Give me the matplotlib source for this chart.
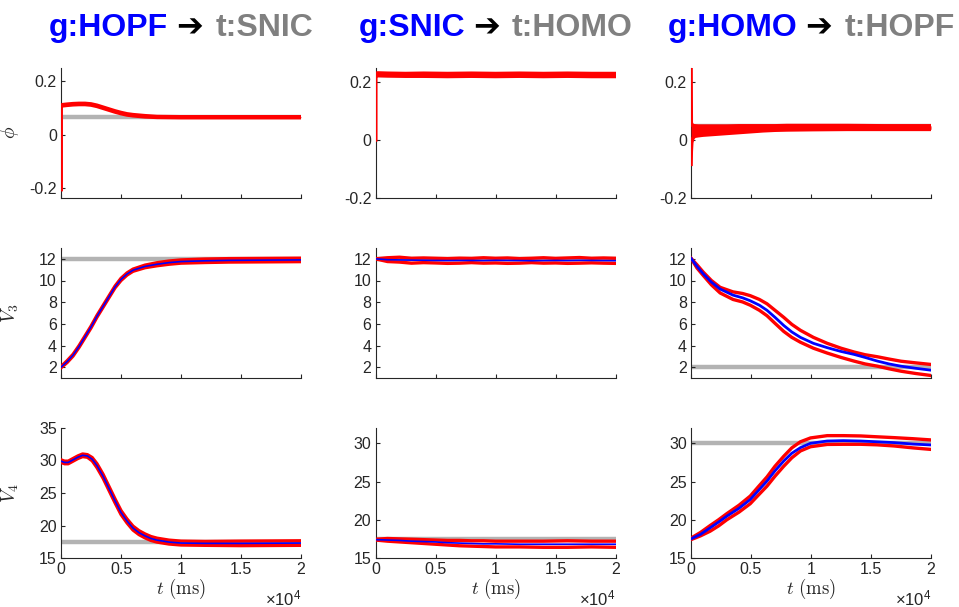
import matplotlib
matplotlib.use("Agg")
import matplotlib.pyplot as plt
import numpy as np

# ---------------- data ----------------
titles = [("g:HOPF", "t:SNIC"), ("g:SNIC", "t:HOMO"), ("g:HOMO", "t:HOPF")]
ylabels = [r"$\phi$", r"$V_3$", r"$V_4$"]

x_ticks = [0, 5000, 10000, 15000, 20000]
x_ticklabels = ["0", "0.5", "1", "1.5", "2"]

# target (gray) values, row x col
targets = [[0.065, 0.225, 0.046],
           [12.0, 12.0, 2.0],
           [17.4, 17.5, 30.0]]

ylims = [[(-0.235, 0.25), (-0.2, 0.25), (-0.2, 0.25)],
         [(1, 13), (1, 13), (1, 13)],
         [(15, 35), (15, 32), (15, 32)]]
yticks = [[[-0.2, 0, 0.2]] * 3,
          [[2, 4, 6, 8, 10, 12]] * 3,
          [[15, 20, 25, 30, 35], [15, 20, 25, 30], [15, 20, 25, 30]]]

# row 1: phi
t_phi_hopf = [0, 1, 100, 500, 1000, 1500, 2000, 2500, 3000, 3500, 4000, 4500,
              5000, 5500, 6000, 7000, 8000, 10000, 14000, 20000]
phi_hopf_mean = [-0.205, 0.106, 0.109, 0.111, 0.113, 0.114, 0.114, 0.112, 0.107, 0.100,
                 0.093, 0.086, 0.080, 0.075, 0.072, 0.068, 0.066, 0.065, 0.065, 0.065]
phi_hopf_hi = [-0.205, 0.108, 0.111, 0.113, 0.115, 0.116, 0.116, 0.114, 0.109, 0.102,
               0.095, 0.088, 0.082, 0.077, 0.074, 0.070, 0.067, 0.066, 0.066, 0.066]
phi_hopf_lo = [-0.205, 0.104, 0.107, 0.109, 0.111, 0.112, 0.112, 0.110, 0.105, 0.098,
               0.091, 0.084, 0.078, 0.073, 0.070, 0.066, 0.064, 0.063, 0.063, 0.063]

t_phi_snic = [0, 1, 200, 1000, 2500, 4000, 6000, 8000, 10000, 12000, 14000, 16000, 18000, 20000]
phi_snic_mean = [0.0, 0.226, 0.227, 0.226, 0.225, 0.225, 0.224, 0.225, 0.224, 0.225,
                 0.224, 0.225, 0.224, 0.224]
phi_snic_hi = [0.0, 0.230, 0.231, 0.230, 0.229, 0.230, 0.229, 0.230, 0.229, 0.230,
               0.229, 0.230, 0.229, 0.229]
phi_snic_lo = [0.0, 0.221, 0.222, 0.221, 0.220, 0.220, 0.219, 0.220, 0.219, 0.220,
               0.219, 0.220, 0.219, 0.219]

t_phi_homo = [0, 20, 60, 150, 300, 600, 1000, 2000, 3000, 4000, 5000, 6000, 7000,
              8000, 10000, 13000, 16000, 20000]
phi_homo_mean = [0.0, 0.010, 0.020, 0.028, 0.031, 0.032, 0.033, 0.034, 0.035, 0.037,
                 0.038, 0.039, 0.040, 0.041, 0.041, 0.042, 0.042, 0.042]
phi_homo_hi = [0.25, 0.060, 0.052, 0.049, 0.048, 0.047, 0.047, 0.047, 0.047, 0.048,
               0.048, 0.048, 0.048, 0.049, 0.049, 0.049, 0.048, 0.048]
phi_homo_lo = [-0.085, -0.040, -0.010, 0.005, 0.012, 0.014, 0.016, 0.019, 0.022, 0.025,
               0.028, 0.031, 0.033, 0.034, 0.035, 0.036, 0.036, 0.036]

# row 2: V3
t_v3_hopf = [0, 500, 1000, 1500, 2000, 2500, 3000, 3500, 4000, 4500, 5000, 5500, 6000,
             7000, 8000, 9000, 10000, 12000, 14000, 17000, 20000]
v3_hopf_mean = [2.0, 2.5, 3.1, 3.9, 4.8, 5.7, 6.7, 7.6, 8.5, 9.4, 10.1, 10.6, 10.95,
                11.3, 11.5, 11.65, 11.75, 11.82, 11.86, 11.88, 11.9]
v3_hopf_hi = [2.05, 2.58, 3.18, 3.98, 4.88, 5.78, 6.78, 7.68, 8.58, 9.48, 10.2, 10.7, 11.05,
              11.42, 11.64, 11.8, 11.9, 11.98, 12.02, 12.04, 12.06]
v3_hopf_lo = [1.95, 2.42, 3.02, 3.82, 4.72, 5.62, 6.62, 7.52, 8.42, 9.32, 10.0, 10.5, 10.85,
              11.18, 11.36, 11.5, 11.6, 11.66, 11.7, 11.72, 11.74]

t_v3_snic = [0, 1000, 2000, 3000, 4000, 5000, 6000, 7000, 8000, 9000, 10000, 11000,
             12000, 13000, 14000, 15000, 16000, 17000, 18000, 19000, 20000]
v3_snic_mean = [12.0, 11.92, 11.9, 11.88, 11.87, 11.85, 11.84, 11.85, 11.85, 11.84, 11.86,
                11.85, 11.84, 11.83, 11.84, 11.85, 11.84, 11.86, 11.85, 11.84, 11.83]
v3_snic_hi = [12.0, 12.1, 12.15, 12.05, 12.08, 12.05, 12.02, 12.06, 12.04, 12.1, 12.05,
              12.08, 12.02, 12.05, 12.1, 12.04, 12.08, 12.12, 12.05, 12.08, 12.05]
v3_snic_lo = [12.0, 11.75, 11.7, 11.6, 11.65, 11.62, 11.58, 11.6, 11.65, 11.6, 11.62,
              11.58, 11.6, 11.65, 11.6, 11.62, 11.58, 11.6, 11.63, 11.6, 11.58]

t_v3_homo = [0, 500, 1032, 1700, 2427, 3500, 4300, 4937, 5700, 6332, 7000, 7727, 8400, 9121,
             10200, 11353, 12500, 13584, 14500, 15537, 16500, 17490, 18700, 20000]
v3_homo_mean = [12.05, 11.3, 10.6, 9.85, 9.21, 8.65, 8.4, 8.13, 7.72, 7.25, 6.6, 5.85, 5.25,
                4.75, 4.2, 3.8, 3.45, 3.18, 2.9, 2.56, 2.3, 2.09, 1.9, 1.72]
v3_homo_hi = [12.05, 11.45, 10.76, 10.0, 9.37, 8.95, 8.8, 8.6, 8.25, 7.85, 7.25, 6.6, 5.95,
              5.4, 4.75, 4.2, 3.75, 3.4, 3.15, 2.96, 2.75, 2.55, 2.4, 2.25]
v3_homo_lo = [12.05, 11.15, 10.45, 9.6, 8.85, 8.25, 8.02, 7.72, 7.25, 6.75, 6.05, 5.3, 4.75,
              4.3, 3.75, 3.3, 2.9, 2.56, 2.3, 2.09, 1.85, 1.63, 1.42, 1.23]

# row 3: V4
t_v4_hopf = [0, 300, 600, 1000, 1400, 1800, 2200, 2600, 3000, 3500, 4000, 4500, 5000,
             5500, 6000, 6500, 7000, 7500, 8000, 9000, 10000, 12000, 15000, 20000]
v4_hopf_mean = [29.9, 29.7, 29.7, 30.1, 30.5, 30.8, 30.7, 30.2, 29.2, 27.6, 25.7, 23.8,
                22.0, 20.7, 19.6, 18.9, 18.4, 18.0, 17.75, 17.45, 17.3, 17.25, 17.25, 17.3]
v4_hopf_hi = [30.1, 29.9, 29.9, 30.3, 30.7, 31.0, 30.9, 30.45, 29.5, 27.9, 26.0, 24.1,
              22.3, 21.0, 19.9, 19.2, 18.7, 18.3, 18.05, 17.75, 17.6, 17.55, 17.6, 17.65]
v4_hopf_lo = [29.7, 29.5, 29.5, 29.9, 30.3, 30.6, 30.5, 29.95, 28.9, 27.3, 25.4, 23.5,
              21.7, 20.4, 19.3, 18.6, 18.1, 17.7, 17.45, 17.15, 17.0, 16.95, 16.9, 16.95]

t_v4_snic = [0, 1000, 2000, 3000, 4000, 5000, 6000, 7000, 8000, 9000, 10000, 12000,
             14000, 16000, 18000, 20000]
v4_snic_mean = [17.4, 17.35, 17.3, 17.2, 17.15, 17.1, 17.0, 16.95, 16.9, 16.85, 16.85,
                16.8, 16.8, 16.8, 16.8, 16.8]
v4_snic_hi = [17.45, 17.55, 17.5, 17.45, 17.4, 17.35, 17.3, 17.3, 17.25, 17.25, 17.2,
              17.2, 17.2, 17.25, 17.2, 17.2]
v4_snic_lo = [17.35, 17.2, 17.1, 17.0, 16.9, 16.8, 16.7, 16.6, 16.55, 16.5, 16.45, 16.45,
              16.4, 16.4, 16.45, 16.4]

t_v4_homo = [0, 800, 1590, 2300, 2985, 4000, 4937, 5600, 6332, 7000, 7727, 8400, 9121,
             9958, 11353, 12700, 14142, 15500, 16931, 18500, 20000]
v4_homo_mean = [17.5, 18.1, 18.94, 19.7, 20.47, 21.5, 22.65, 23.8, 25.06, 26.4, 27.68,
                28.7, 29.43, 30.0, 30.3, 30.35, 30.3, 30.2, 30.09, 29.9, 29.78]
v4_homo_hi = [17.6, 18.35, 19.24, 20.0, 20.8, 21.9, 23.1, 24.3, 25.6, 27.0, 28.3, 29.4,
              30.2, 30.7, 31.0, 31.0, 30.96, 30.85, 30.74, 30.6, 30.44]
v4_homo_lo = [17.4, 17.9, 18.5, 19.2, 20.0, 21.0, 22.1, 23.2, 24.4, 25.7, 27.0, 28.1,
              29.0, 29.55, 29.85, 29.87, 29.87, 29.8, 29.65, 29.4, 29.2]

panels = [
    [(t_phi_hopf, phi_hopf_mean, phi_hopf_hi, phi_hopf_lo),
     (t_phi_snic, phi_snic_mean, phi_snic_hi, phi_snic_lo),
     (t_phi_homo, phi_homo_mean, phi_homo_hi, phi_homo_lo)],
    [(t_v3_hopf, v3_hopf_mean, v3_hopf_hi, v3_hopf_lo),
     (t_v3_snic, v3_snic_mean, v3_snic_hi, v3_snic_lo),
     (t_v3_homo, v3_homo_mean, v3_homo_hi, v3_homo_lo)],
    [(t_v4_hopf, v4_hopf_mean, v4_hopf_hi, v4_hopf_lo),
     (t_v4_snic, v4_snic_mean, v4_snic_hi, v4_snic_lo),
     (t_v4_homo, v4_homo_mean, v4_homo_hi, v4_homo_lo)],
]

# ---------------- styling ----------------
plt.rcParams["font.family"] = ["Liberation Sans", "DejaVu Sans"]
plt.rcParams["mathtext.fontset"] = "cm"
dark = "#262626"
red = "#ff0000"
blue = "#0000ff"
gray = "#b3b3b3"

W, H = 959, 607
fig = plt.figure(figsize=(W / 100, H / 100), dpi=100)

col_left = [61, 375.5, 691]
row_top = [67.5, 248, 428]
ax_w, ax_h = 240, 130

for r in range(3):
    for c in range(3):
        ax = fig.add_axes([col_left[c] / W, 1 - (row_top[r] + ax_h) / H, ax_w / W, ax_h / H])
        t, m, hi, lo = panels[r][c]
        ax.axhline(targets[r][c], color=gray, lw=3.2, zorder=1)
        if r == 0:
            # fast oscillations fill the band; mean hidden underneath
            ax.plot(t, m, color=blue, lw=1.3, zorder=2)
            ax.fill_between(t, lo, hi, color=red, lw=0, zorder=3)
            ax.plot(t, hi, color=red, lw=2.6, zorder=3)
            ax.plot(t, lo, color=red, lw=2.6, zorder=3)
        else:
            ax.plot(t, hi, color=red, lw=2.4, zorder=3)
            ax.plot(t, lo, color=red, lw=2.4, zorder=3)
            ax.plot(t, m, color=blue, lw=2.0 if c == 2 else 1.2, zorder=4)

        ax.set_xlim(0, 20000)
        ax.set_ylim(*ylims[r][c])
        ax.set_yticks(yticks[r][c])
        ax.set_yticklabels([("%g" % v) for v in yticks[r][c]])
        ax.set_xticks(x_ticks)
        if r == 2:
            ax.set_xticklabels(x_ticklabels)
            ax.set_xlabel(r"$t\ \mathrm{(ms)}$", fontsize=13.5, color=dark, labelpad=0)
            ax.text(1.0, -0.31, r"$\mathregular{\times10^{4}}$", transform=ax.transAxes,
                    ha="right", va="center", fontsize=12, color=dark)
        else:
            ax.set_xticklabels([])
        if c == 0:
            ax.set_ylabel(ylabels[r], fontsize=14, color=dark, rotation=90)
            ax.yaxis.set_label_coords(-0.165, 0.5)

        for s in ["top", "right"]:
            ax.spines[s].set_visible(False)
        for s in ["left", "bottom"]:
            ax.spines[s].set_color(dark)
            ax.spines[s].set_linewidth(0.8)
        ax.tick_params(direction="in", length=3, width=0.8, colors=dark,
                       labelsize=11.5, pad=3)

# titles: blue generator, black arrow, gray target
renderer = fig.canvas.get_renderer()
title_y = 1 - 36 / H
gaps = [8, 12]
for c, (g, tt) in enumerate(titles):
    parts = [(g, blue), ("\u2794", "black"), (tt, "#808080")]
    objs = []
    for s, col in parts:
        objs.append(fig.text(0, title_y, s, color=col, fontsize=23, fontweight="bold",
                             ha="left", va="baseline"))
    widths = [o.get_window_extent(renderer).width for o in objs]
    total = sum(widths) + sum(gaps)
    xc = col_left[c] + ax_w / 2
    x = xc - total / 2
    for i, o in enumerate(objs):
        o.set_x(x / W)
        x += widths[i] + (gaps[i] if i < 2 else 0)

fig.savefig("out.png", dpi=100)
